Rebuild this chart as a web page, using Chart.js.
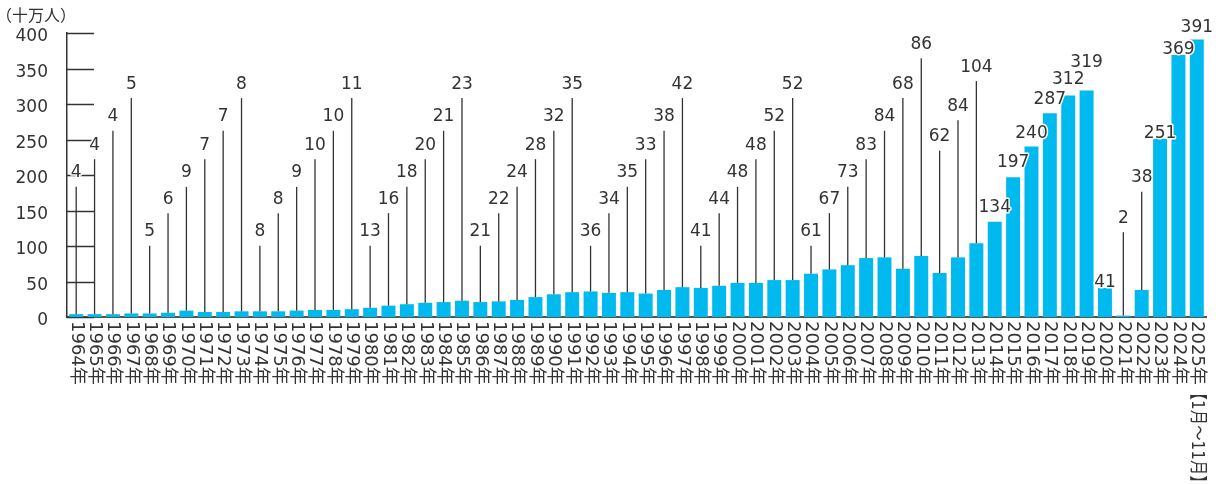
<!DOCTYPE html>
<html lang="ja">
<head>
<meta charset="utf-8">
<title>出国日本人数の推移</title>
<script src="https://cdn.jsdelivr.net/npm/chart.js@4.4.1/dist/chart.umd.min.js"></script>
<style>
  html, body { margin: 0; padding: 0; background: #fff; }
  canvas { display: block; }
</style>
</head>
<body>
<canvas id="chart" width="1216" height="484"></canvas>
<script>
// 年
const years = [
  1964, 1965, 1966, 1967, 1968, 1969, 1970, 1971, 1972, 1973,
  1974, 1975, 1976, 1977, 1978, 1979, 1980, 1981, 1982, 1983,
  1984, 1985, 1986, 1987, 1988, 1989, 1990, 1991, 1992, 1993,
  1994, 1995, 1996, 1997, 1998, 1999, 2000, 2001, 2002, 2003,
  2004, 2005, 2006, 2007, 2008, 2009, 2010, 2011, 2012, 2013,
  2014, 2015, 2016, 2017, 2018, 2019, 2020, 2021, 2022, 2023,
  2024, 2025
];

// 横軸ラベル（最終年は1～11月の値）
const yearLabels = years.map(y => y + '年');
const lastNote = '【1月～11月】';

// 人数（十万人）
const visitors = [
  4, 4, 4, 5, 5, 6, 9, 7, 7, 8,
  8, 8, 9, 10, 10, 11, 13, 16, 18, 20,
  21, 23, 21, 22, 24, 28, 32, 35, 36, 34,
  35, 33, 38, 42, 41, 44, 48, 48, 52, 52,
  61, 67, 73, 83, 84, 68, 86, 62, 84, 104,
  134, 197, 240, 287, 312, 319, 41, 2, 38, 251,
  369, 391
];

// 縦軸目盛り
const yMax = 400;
const yStep = 50;

// 数値ラベルの高さ（縦軸の値で指定、文字の中心）
const labelAt = [
  203, 242, 282, 328,
  120, 166, 203, 242, 282, 328,
  120, 166, 203, 242, 282, 328,
  120, 166, 203, 242, 282, 328,
  120, 166, 203, 242, 282, 328,
  120, 166, 203, 242, 282, 328,
  120, 166, 203, 242, 282, 328,
  120, 166, 203, 242, 282, 328,
  384, 254, 297, 352,
  154, 217, 259, 306, 334, 359, 49, 139, 196, 259,
  377, 408
];

// 引き出し線を引かずに棒の上へ直接置く年
const onBarYears = [2014, 2015, 2016, 2017, 2018, 2019, 2020, 2023, 2024, 2025];

const TEXT = '#333';
const NUM_FONT = '17px "DejaVu Sans", "Noto Sans CJK JP", sans-serif';
const YEAR_FONT = '18px "DejaVu Sans", "Noto Sans CJK JP", sans-serif';

const calloutPlugin = {
  id: 'callouts',
  beforeDatasetsDraw(chart) {
    // 縦軸の内向きの目盛り線
    const { ctx, chartArea, scales: { y } } = chart;
    ctx.save();
    ctx.strokeStyle = TEXT;
    ctx.lineWidth = 1.5;
    y.ticks.forEach(t => {
      const py = Math.round(y.getPixelForValue(t.value)) + 0.5;
      ctx.beginPath();
      ctx.moveTo(chartArea.left, py);
      ctx.lineTo(chartArea.left + 27, py);
      ctx.stroke();
    });
    ctx.restore();
  },
  afterDatasetsDraw(chart) {
    const { ctx, scales: { y } } = chart;
    const bars = chart.getDatasetMeta(0).data;
    ctx.save();
    ctx.font = NUM_FONT;
    ctx.textAlign = 'center';
    ctx.textBaseline = 'middle';
    ctx.lineJoin = 'round';
    bars.forEach((bar, i) => {
      const ty = y.getPixelForValue(labelAt[i]);
      if (!onBarYears.includes(years[i])) {
        ctx.strokeStyle = TEXT;
        ctx.lineWidth = 1.3;
        ctx.beginPath();
        ctx.moveTo(bar.x, ty + 14);
        ctx.lineTo(bar.x, bar.y);
        ctx.stroke();
      }
      const txt = String(visitors[i]);
      ctx.strokeStyle = '#fff';
      ctx.lineWidth = 3;
      ctx.strokeText(txt, bar.x, ty);
      ctx.fillStyle = TEXT;
      ctx.fillText(txt, bar.x, ty);
    });
    ctx.restore();
  },
  afterDraw(chart) {
    const { ctx, chartArea, scales: { x } } = chart;
    ctx.save();
    ctx.fillStyle = TEXT;

    // 単位
    ctx.font = '16px "Noto Sans CJK JP", sans-serif';
    ctx.textAlign = 'center';
    ctx.textBaseline = 'middle';
    ctx.fillText('（十万人）', 36, 15);

    // 横軸ラベル（時計回りに回転して上から下へ）
    ctx.font = YEAR_FONT;
    ctx.textAlign = 'left';
    yearLabels.forEach((label, i) => {
      const px = x.getPixelForTick(i);
      ctx.save();
      ctx.translate(px, chartArea.bottom + 4);
      ctx.rotate(Math.PI / 2);
      ctx.fillText(label, 0, 0);
      if (i === yearLabels.length - 1) {
        ctx.translate(ctx.measureText(label).width, 0);
        ctx.scale(0.85, 1);
        ctx.fillText(lastNote, 0, 0);
      }
      ctx.restore();
    });
    ctx.restore();
  }
};

new Chart(document.getElementById('chart'), {
  type: 'bar',
  data: {
    labels: yearLabels,
    datasets: [{
      data: visitors,
      backgroundColor: '#00b9ef',
      barPercentage: 0.76,
      categoryPercentage: 1.0
    }]
  },
  options: {
    responsive: false,
    animation: false,
    devicePixelRatio: 1,
    layout: { padding: { top: 33, right: 10, left: 0, bottom: 0 } },
    plugins: {
      legend: { display: false },
      tooltip: { enabled: false }
    },
    scales: {
      x: {
        afterFit(scale) { scale.height = 167; },
        ticks: { display: false },
        grid: { display: false, drawTicks: false },
        border: { display: true, color: '#555', width: 2 }
      },
      y: {
        min: 0,
        max: yMax,
        afterFit(scale) { scale.width = 67; },
        ticks: {
          stepSize: yStep,
          padding: 19,
          labelOffset: 4,
          color: TEXT,
          font: { family: '"DejaVu Sans"', size: 17 }
        },
        grid: { display: false, drawTicks: false },
        border: { display: true, color: TEXT, width: 1.5 }
      }
    }
  },
  plugins: [calloutPlugin]
});
</script>
</body>
</html>
